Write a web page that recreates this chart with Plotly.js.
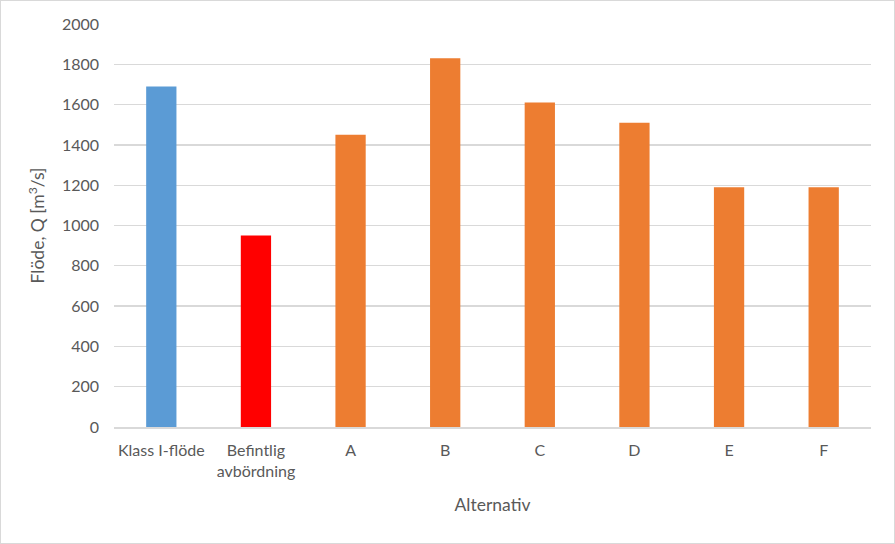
<!DOCTYPE html>
<html>
<head>
<meta charset="utf-8">
<script src="https://cdn.plot.ly/plotly-3.0.1.min.js"></script>
<style>
html,body{margin:0;padding:0;background:#fff;}
#chart{width:893px;height:542px;border:1px solid #d9d9d9;}
</style>
</head>
<body>
<div id="chart"></div>
<script>
const categories = ["Klass I-flöde", "Befintlig<br>avbördning", "A", "B", "C", "D", "E", "F"];
const values = [1690, 950, 1450, 1830, 1610, 1510, 1190, 1190];
const barColors = ["#5b9bd5", "#ff0000", "#ed7d31", "#ed7d31", "#ed7d31", "#ed7d31", "#ed7d31", "#ed7d31"];
const yTicks = [0, 200, 400, 600, 800, 1000, 1200, 1400, 1600, 1800, 2000];

const fontFam = "Lato, 'Open Sans', sans-serif";
const trace = {
  type: "bar",
  x: categories,
  y: values,
  marker: {color: barColors},
  width: 0.32,
  hoverinfo: "x+y"
};
const layout = {
  width: 893, height: 542,
  margin: {l: 113, r: 23, t: 23, b: 116},
  paper_bgcolor: "#fff", plot_bgcolor: "#fff",
  showlegend: false,
  font: {family: fontFam, color: "#595959", size: 16},
  xaxis: {
    type: "category",
    showline: true, linecolor: "#d9d9d9", linewidth: 1.5,
    showgrid: false, ticks: "",
    tickfont: {size: 16, color: "#595959"},
    ticklabelstandoff: 8,
    title: {text: "Alternativ", font: {size: 17.5, color: "#595959"}, standoff: 20}
  },
  yaxis: {
    range: [0, 2000],
    tickvals: yTicks,
    showgrid: true, gridcolor: "#d9d9d9", gridwidth: 1.3,
    zeroline: false, showline: false, ticks: "",
    tickfont: {size: 16, color: "#595959"},
    ticklabelstandoff: 14,
    title: {text: "Flöde, Q [m<sup>3</sup>/s]", font: {size: 17.5, color: "#595959"}, standoff: 12}
  }
};
Plotly.newPlot("chart", [trace], layout, {displayModeBar: false, staticPlot: true});
</script>
</body>
</html>
